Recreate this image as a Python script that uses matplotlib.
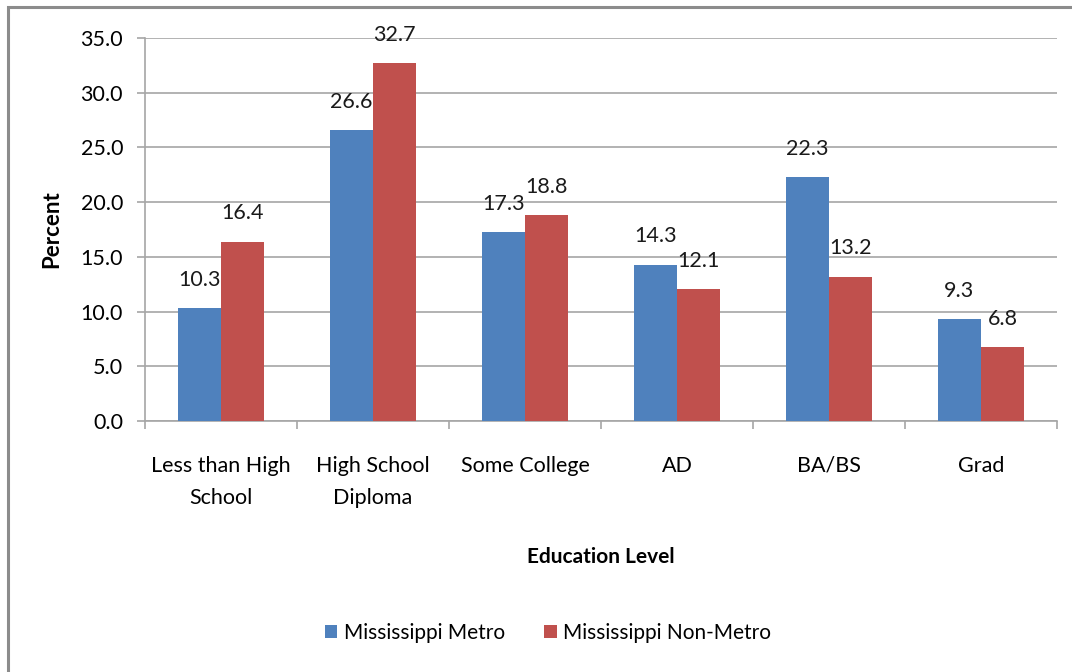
import matplotlib
matplotlib.use("Agg")
import matplotlib.pyplot as plt
from matplotlib.patches import Rectangle
import numpy as np

# education attainment, Mississippi metro vs non-metro
categories = ["Less than High\nSchool", "High School\nDiploma", "Some College", "AD", "BA/BS", "Grad"]
metro = [10.3, 26.6, 17.3, 14.3, 22.3, 9.3]
non_metro = [16.4, 32.7, 18.8, 12.1, 13.2, 6.8]
series_names = ["Mississippi Metro", "Mississippi Non-Metro"]
yticks = [0, 5, 10, 15, 20, 25, 30, 35]

plt.rcParams['font.family'] = ['Lato', 'DejaVu Sans']
FS = 15.5

fig = plt.figure(figsize=(10.72, 6.72), dpi=100)
ax = fig.add_axes([145/1072, 1 - 421/672, 912/1072, 383/672])

# chart border (partially cut off in the original)
fig.patches.append(Rectangle((8/1072, -0.1), 1.2, 1 - 6.5/672 + 0.1,
                             transform=fig.transFigure, fill=False,
                             edgecolor='#8c8c8c', linewidth=2.2))

x = np.arange(len(categories))
w = 1 / 3.5
b1 = ax.bar(x - w/2, metro, w, color='#4F81BD', label=series_names[0], zorder=3)
b2 = ax.bar(x + w/2, non_metro, w, color='#C0504D', label=series_names[1], zorder=3)

for bars in (b1, b2):
    for r in bars:
        ax.annotate(f"{r.get_height():.1f}", (r.get_x() + r.get_width()/2, r.get_height()),
                    xytext=(0, 13), textcoords='offset points',
                    ha='center', va='bottom', fontsize=FS, color='#1a1a1a')

ax.set_xlim(-0.5, len(categories) - 0.5)
ax.set_ylim(0, 35)
ax.set_yticks(yticks)
ax.set_yticklabels([f"{v:.1f}" for v in yticks], fontsize=FS)
ax.yaxis.grid(True, color='#a6a6a6', linewidth=1.2, zorder=0)
ax.set_axisbelow(True)

ax.set_xticks(x)
ax.set_xticklabels(categories, fontsize=FS, linespacing=1.78)
ax.set_xticks(np.arange(-0.5, len(categories)), minor=True)
ax.tick_params(axis='x', which='major', length=0, pad=25)
ax.tick_params(axis='x', which='minor', length=5.5, color='#a6a6a6', width=1.2)
ax.tick_params(axis='y', length=5.8, color='#a6a6a6', width=1.2, pad=10)

for s in ['top', 'right']:
    ax.spines[s].set_visible(False)
for s in ['left', 'bottom']:
    ax.spines[s].set_color('#a6a6a6')
    ax.spines[s].set_linewidth(1.2)

ax.set_ylabel("Percent", fontsize=16, fontweight='bold')
ax.yaxis.set_label_coords(-0.091, 0.5)
ax.set_xlabel("Education Level", fontsize=15, fontweight='bold')
ax.xaxis.set_label_coords(0.5, -0.328)

fig.legend(handles=[b1, b2], loc='center', bbox_to_anchor=(548/1072, 1 - 633/672),
           ncol=2, frameon=False, fontsize=15, handlelength=0.6, handleheight=0.6,
           handletextpad=0.3, columnspacing=1.9)

fig.savefig("out.png", dpi=100)
